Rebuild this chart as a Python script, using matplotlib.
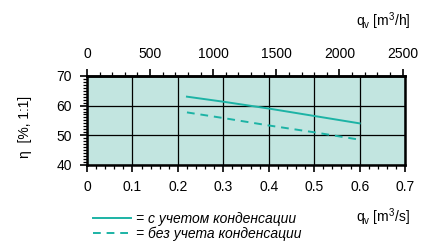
import matplotlib

matplotlib.use("Agg")
import matplotlib.pyplot as plt  # noqa: E402
from matplotlib import font_manager  # noqa: E402
from matplotlib.ticker import MultipleLocator  # noqa: E402

# flow rate in m3/s and efficiency in %
q_with = [0.22, 0.3, 0.4, 0.5, 0.6]
eta_with = [63.0, 61.3, 59.0, 56.5, 54.0]
q_without = [0.22, 0.3, 0.4, 0.5, 0.6]
eta_without = [57.7, 55.8, 53.3, 51.0, 48.5]
labels = ["= с учетом конденсации", "= без учета конденсации"]
bottom_ticks = [0, 0.1, 0.2, 0.3, 0.4, 0.5, 0.6, 0.7]
bottom_labels = ["0", "0.1", "0.2", "0.3", "0.4", "0.5", "0.6", "0.7"]
top_ticks = [0, 500, 1000, 1500, 2000, 2500]

# drop the narrow variant so "Liberation Sans" resolves to the regular width
font_manager.fontManager.ttflist = [
    f for f in font_manager.fontManager.ttflist if "Narrow" not in f.fname
]

plt.rcParams["font.family"] = ["Liberation Sans", "DejaVu Sans"]
plt.rcParams["mathtext.fontset"] = "custom"
plt.rcParams["mathtext.rm"] = "Liberation Sans"
plt.rcParams["mathtext.it"] = "Liberation Sans:italic"

teal = "#1cb3a5"
fig = plt.figure(figsize=(4.37, 2.44), dpi=100)
ax = fig.add_axes([0.199, 0.324, 0.728, 0.365])
ax.set_facecolor("#c2e5e0")

l1, = ax.plot(q_with, eta_with, color=teal, lw=1.4)
l2, = ax.plot(q_without, eta_without, color=teal, lw=1.4, ls=(0, (4, 3)))

ax.set_xlim(0, 0.7)
ax.set_ylim(40, 70)
ax.set_xticks(bottom_ticks)
ax.set_xticklabels(bottom_labels)
ax.xaxis.set_minor_locator(MultipleLocator(0.02))
ax.yaxis.set_major_locator(MultipleLocator(10))
ax.yaxis.set_minor_locator(MultipleLocator(1))
ax.grid(True, which="major", color="black", lw=0.9)
ax.set_axisbelow(True)
for s in ax.spines.values():
    s.set_linewidth(1.8)
ax.tick_params(which="major", direction="out", length=5, width=1.2, labelsize=10, pad=6)
ax.tick_params(which="minor", direction="out", length=3, width=0.9)

# second scale on top: m3/h
top = ax.secondary_xaxis("top", functions=(lambda x: x * 3600, lambda x: x / 3600))
top.set_xticks(top_ticks)
top.xaxis.set_minor_locator(MultipleLocator(100))
top.tick_params(which="major", direction="out", length=5, width=1.2, labelsize=10, pad=6)
top.tick_params(which="minor", direction="out", length=3, width=0.9)
top.spines["top"].set_linewidth(1.8)

fig.text(0.058, 0.48, "η  [%, 1:1]", rotation=90, ha="center", va="center", fontsize=10)
fig.text(0.94, 0.915, r"q$_\mathrm{v}$ [m$^\mathrm{3}$/h]", ha="right", va="center", fontsize=10)
fig.text(0.937, 0.108, r"q$_\mathrm{v}$ [m$^\mathrm{3}$/s]", ha="right", va="center", fontsize=10)

fig.legend([l1, l2], labels, loc="upper left", bbox_to_anchor=(0.197, 0.16),
           frameon=False, handlelength=2.75, handletextpad=0.35, labelspacing=0.02,
           borderpad=0, prop={"style": "italic", "size": 10})

fig.savefig("out.png", dpi=100)
